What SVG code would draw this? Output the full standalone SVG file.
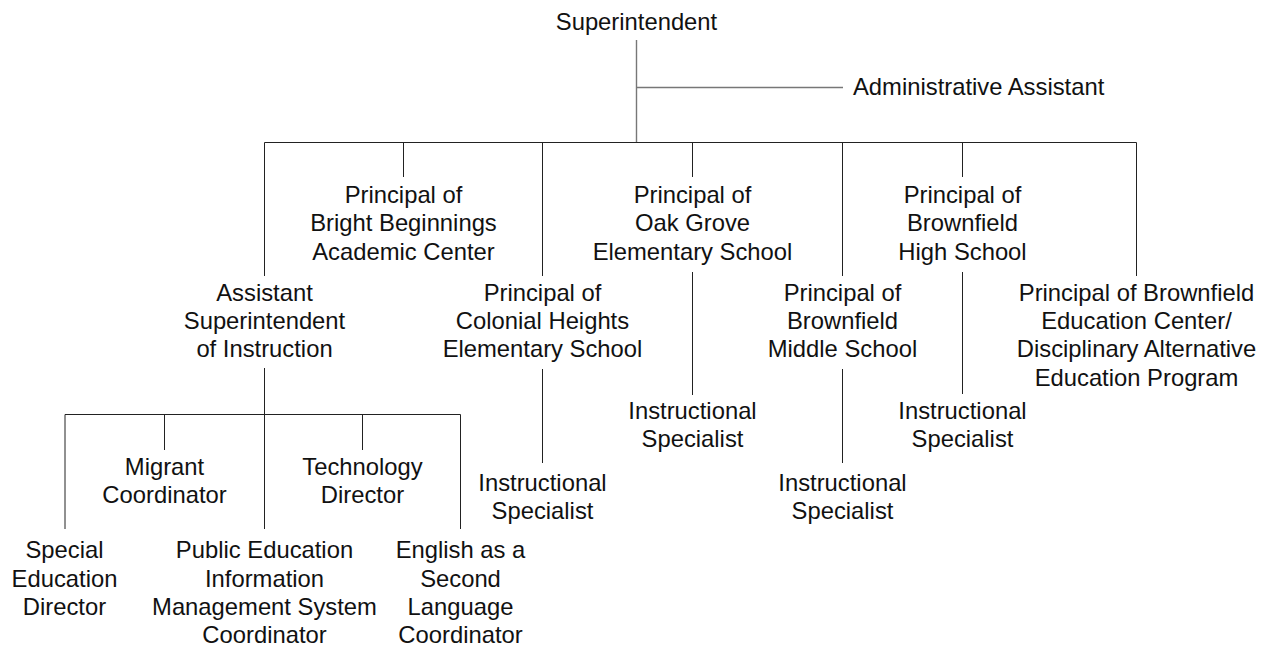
<svg xmlns="http://www.w3.org/2000/svg" width="1270" height="650" viewBox="0 0 1270 650">
<style>
  .t { font-family: "Liberation Sans", Arial, sans-serif; font-size: 23.8px; fill: #111; text-anchor: middle; }
  .ts { text-anchor: start; }
  .c { stroke: #222; stroke-width: 1; fill: none; }
  .g { stroke: #777; stroke-width: 1.4; fill: none; }
</style>
<rect width="1270" height="650" fill="#fff"/>
<g id="connectors">
  <path class="g" d="M636.5 40 V142.5 M636.5 87.5 H843"/>
  <path class="c" d="M264.5 142.5 H1136.5"/>
  <path class="c" d="M264.5 142.5 V276 M403.5 142.5 V177 M542.5 142.5 V276 M692.5 142.5 V177 M842.5 142.5 V276 M962.5 142.5 V177 M1136.5 142.5 V276"/>
  <path class="c" d="M692.5 272 V395 M962.5 272 V394 M542.5 369 V463 M842.5 369 V463"/>
  <path class="c" d="M264.5 368 V414.5 M65 414.5 H460.5 M65 414.5 V529 M164.5 414.5 V450 M264.5 414.5 V529 M362.5 414.5 V450 M460.5 414.5 V529"/>
</g>
<g id="superintendent"><text class="t" x="636.5" y="30">Superintendent</text></g>
<g id="admin-assistant"><text class="t ts" x="853" y="94.5">Administrative Assistant</text></g>
<g id="bright-beginnings"><text class="t" x="403.5"><tspan x="403.5" y="203">Principal of</tspan><tspan x="403.5" y="231.3">Bright Beginnings</tspan><tspan x="403.5" y="259.6">Academic Center</tspan></text></g>
<g id="oak-grove"><text class="t"><tspan x="692.5" y="203">Principal of</tspan><tspan x="692.5" y="231.3">Oak Grove</tspan><tspan x="692.5" y="259.6">Elementary School</tspan></text></g>
<g id="brownfield-high"><text class="t"><tspan x="962.5" y="203">Principal of</tspan><tspan x="962.5" y="231.3">Brownfield</tspan><tspan x="962.5" y="259.6">High School</tspan></text></g>
<g id="asst-superintendent"><text class="t"><tspan x="264.5" y="300.7">Assistant</tspan><tspan x="264.5" y="329">Superintendent</tspan><tspan x="264.5" y="357.3">of Instruction</tspan></text></g>
<g id="colonial-heights"><text class="t"><tspan x="542.5" y="300.7">Principal of</tspan><tspan x="542.5" y="329">Colonial Heights</tspan><tspan x="542.5" y="357.3">Elementary School</tspan></text></g>
<g id="brownfield-middle"><text class="t"><tspan x="842.5" y="300.7">Principal of</tspan><tspan x="842.5" y="329">Brownfield</tspan><tspan x="842.5" y="357.3">Middle School</tspan></text></g>
<g id="education-center"><text class="t"><tspan x="1136.5" y="300.7">Principal of Brownfield</tspan><tspan x="1136.5" y="329">Education Center/</tspan><tspan x="1136.5" y="357.3">Disciplinary Alternative</tspan><tspan x="1136.5" y="385.6">Education Program</tspan></text></g>
<g id="is-oak-grove"><text class="t"><tspan x="692.5" y="418.7">Instructional</tspan><tspan x="692.5" y="447">Specialist</tspan></text></g>
<g id="is-high"><text class="t"><tspan x="962.5" y="418.7">Instructional</tspan><tspan x="962.5" y="447">Specialist</tspan></text></g>
<g id="is-colonial"><text class="t"><tspan x="542.5" y="490.7">Instructional</tspan><tspan x="542.5" y="519">Specialist</tspan></text></g>
<g id="is-middle"><text class="t"><tspan x="842.5" y="490.7">Instructional</tspan><tspan x="842.5" y="519">Specialist</tspan></text></g>
<g id="migrant"><text class="t"><tspan x="164.5" y="475">Migrant</tspan><tspan x="164.5" y="503.3">Coordinator</tspan></text></g>
<g id="technology"><text class="t"><tspan x="362.5" y="475">Technology</tspan><tspan x="362.5" y="503.3">Director</tspan></text></g>
<g id="special-education"><text class="t"><tspan x="64.5" y="558.3">Special</tspan><tspan x="64.5" y="586.6">Education</tspan><tspan x="64.5" y="614.9">Director</tspan></text></g>
<g id="peims"><text class="t"><tspan x="264.5" y="558.3">Public Education</tspan><tspan x="264.5" y="586.6">Information</tspan><tspan x="264.5" y="614.9">Management System</tspan><tspan x="264.5" y="643.2">Coordinator</tspan></text></g>
<g id="esl"><text class="t"><tspan x="460.5" y="558.3">English as a</tspan><tspan x="460.5" y="586.6">Second</tspan><tspan x="460.5" y="614.9">Language</tspan><tspan x="460.5" y="643.2">Coordinator</tspan></text></g>
</svg>
